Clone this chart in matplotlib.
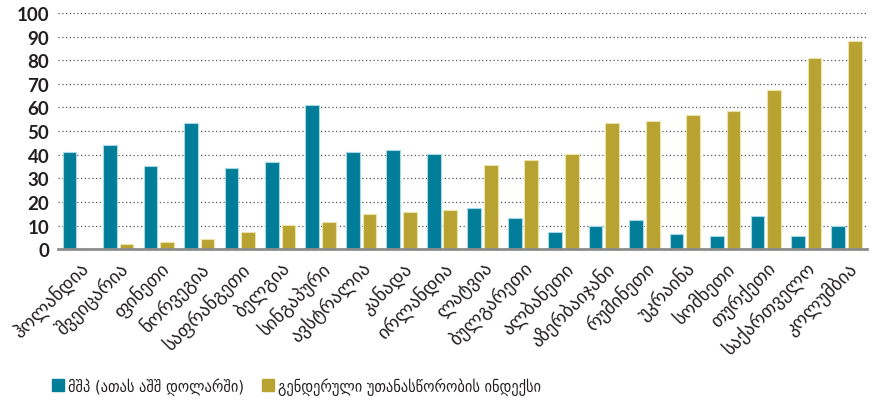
import matplotlib
matplotlib.use("Agg")
import matplotlib.pyplot as plt
import numpy as np
from matplotlib.lines import Line2D

countries = ["ჰოლანდია", "შვეიცარია", "ფინეთი", "ნორვეგია", "საფრანგეთი",
             "ბელგია", "სინგაპური", "ავსტრალია", "კანადა", "ირლანდია",
             "ლატვია", "ბულგარეთი", "ალბანეთი", "აზერბაიჯანი", "რუმინეთი",
             "უკრაინა", "სომხეთი", "თურქეთი", "საქართველო", "კოლუმბია"]
gdp = [41.3, 44.3, 35.3, 53.6, 34.6, 36.9, 61.1, 41.2, 42.0, 40.4,
       17.5, 13.3, 7.3, 9.7, 12.3, 6.5, 5.6, 14.0, 5.6, 9.9]
gii = [0.5, 2.2, 3.1, 4.2, 7.2, 10.4, 11.6, 15.0, 15.8, 16.6,
       35.7, 37.8, 40.4, 53.4, 54.2, 56.9, 58.5, 67.6, 80.8, 88.3]
yticks = list(range(0, 101, 10))
legend_labels = ["მშპ (ათას აშშ დოლარში)", "გენდერული უთანასწორობის ინდექსი"]

BLUE = "#007d99"
GOLD = "#b8a332"
TEXT = "#231f20"

fig = plt.figure(figsize=(8.73, 4.10), dpi=100)
ax = fig.add_axes([0.066, 0.3895, 0.927, 0.5765])

x = np.arange(len(countries))
w = 0.34
ax.bar(x - 0.205, gdp, width=w, color=BLUE, edgecolor="#a8d8e2", linewidth=0.8, zorder=3)
ax.bar(x + 0.205, gii, width=w, color=GOLD, edgecolor="#ece3a8", linewidth=0.8, zorder=3)

ax.set_xlim(-0.5, len(countries) - 0.5)
ax.set_ylim(0, 100)
ax.set_yticks(yticks)
ax.set_yticklabels([str(v) for v in yticks], family=["Lato", "DejaVu Sans"],
                   fontsize=13.5, fontweight="bold", color=TEXT)
ax.yaxis.grid(True, linestyle=(0, (1, 2)), color="#555555", linewidth=0.9, zorder=0)
ax.tick_params(axis="y", length=0, pad=6)
ax.tick_params(axis="x", length=0, pad=6)

ax.set_xticks(x)
ax.set_xticklabels(countries, rotation=45, ha="right", va="top",
                   rotation_mode="anchor", family=["DejaVu Sans"],
                   fontsize=13.5, color=TEXT)

for side in ["top", "right", "left"]:
    ax.spines[side].set_visible(False)
ax.spines["bottom"].set_color("#8c8c8c")
ax.spines["bottom"].set_linewidth(2)
ax.spines["bottom"].set_zorder(4)

handles = [Line2D([], [], marker="s", linestyle="none", markersize=9,
                  markerfacecolor=c, markeredgecolor=c) for c in (BLUE, GOLD)]
fig.legend(handles, legend_labels, loc="lower left", bbox_to_anchor=(0.045, 0.0),
           ncol=2, frameon=False, handlelength=0.6, handletextpad=0.3,
           columnspacing=1.2,
           prop={"family": "DejaVu Sans", "stretch": "condensed", "size": 11.5},
           labelcolor=TEXT)

fig.savefig("out.png", dpi=100)
